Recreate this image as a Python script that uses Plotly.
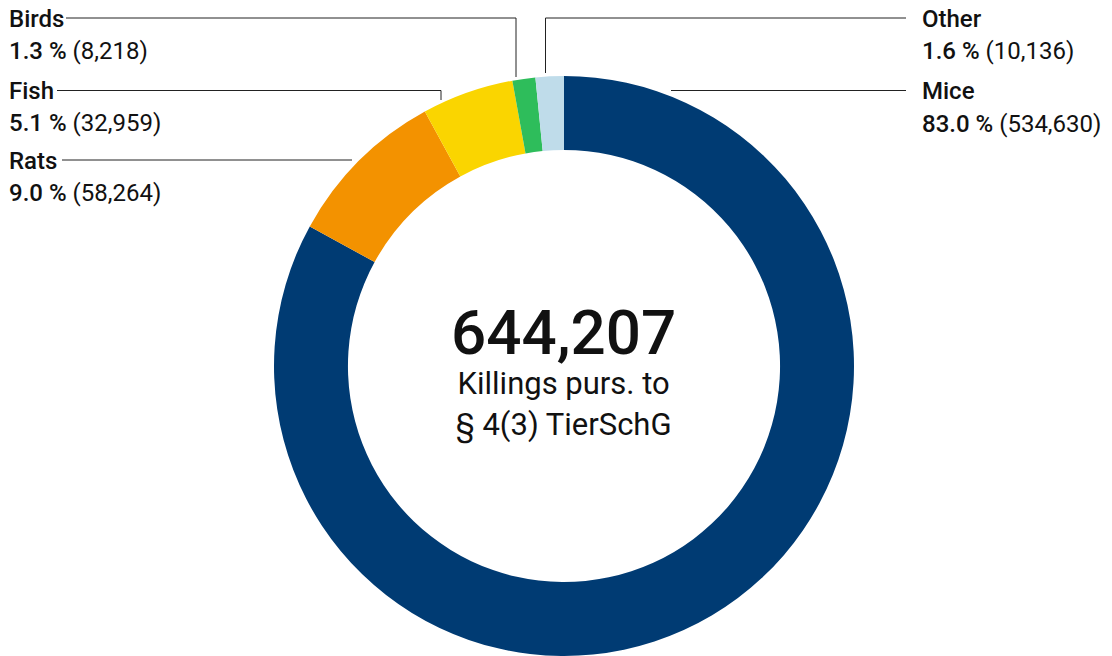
import plotly.graph_objects as go

# ---- data ----
categories = ["Mice", "Rats", "Fish", "Birds", "Other"]
values = [534630, 58264, 32959, 8218, 10136]
colors = ["#003B73", "#F39200", "#FAD500", "#2EBD5B", "#BFDCEA"]
center_number = "644,207"
center_lines = ["Killings purs. to", "§ 4(3) TierSchG"]

W, H = 1112, 656
FONT = "Roboto"

total = sum(values)
pct = {c: 100 * v / total for c, v in zip(categories, values)}
val = dict(zip(categories, values))

fig = go.Figure()
fig.add_trace(go.Pie(
    labels=categories,
    values=values,
    marker=dict(colors=colors, line=dict(width=0)),
    hole=0.745,
    sort=False,
    direction="clockwise",
    rotation=0,
    textinfo="none",
    hoverinfo="label+value+percent",
    domain=dict(x=[274 / W, 854 / W], y=[0, 580 / H]),
    showlegend=False,
))

def px(x):
    return x / W

def py(y):
    return 1 - y / H

LABEL_SIZE = 24

# label layout (pixel positions): name, text x, title y, value y
label_layout = [
    ("Birds", 8, 19, 51),
    ("Fish", 8, 91, 123),
    ("Rats", 8, 161, 193),
    ("Other", 921, 19, 51),
    ("Mice", 921, 91, 124),
]

annotations = []
for name, x, ty, vy in label_layout:
    annotations.append(dict(
        x=px(x), y=py(ty), xref="paper", yref="paper", xanchor="left", yanchor="middle",
        text=f'<span style="font-weight:500">{name}</span>', showarrow=False,
        font=dict(family=FONT, size=LABEL_SIZE, color="#111"), borderpad=0,
    ))
    annotations.append(dict(
        x=px(x), y=py(vy), xref="paper", yref="paper", xanchor="left", yanchor="middle",
        text=f'<span style="font-weight:500">{pct[name]:.1f} %</span> ({val[name]:,})',
        showarrow=False, font=dict(family=FONT, size=LABEL_SIZE, color="#111"), borderpad=0,
    ))

# center text as one block
center_text = (
    f'<span style="font-size:62px;font-weight:500">{center_number}</span><br>'
    + "<br>".join(center_lines)
)
annotations.append(dict(
    x=px(563), y=py(370), xref="paper", yref="paper", xanchor="center", yanchor="middle",
    text=center_text, showarrow=False, align="center", borderpad=0,
    font=dict(family=FONT, size=31, color="#111"),
))

# leader lines (pixel polylines)
leaders = [
    [(66, 18), (516, 18), (516, 77)],      # Birds
    [(906, 18), (545.5, 18), (545.5, 73)], # Other
    [(57, 90.5), (441, 90.5), (441, 100)], # Fish
    [(62, 160), (352, 160)],               # Rats
    [(671, 90.5), (906, 90.5)],            # Mice
]
shapes = []
for pts in leaders:
    for (x0, y0), (x1, y1) in zip(pts[:-1], pts[1:]):
        shapes.append(dict(
            type="line", xref="paper", yref="paper",
            x0=px(x0), y0=py(y0), x1=px(x1), y1=py(y1),
            line=dict(color="#222", width=1),
        ))

fig.update_layout(
    width=W, height=H,
    margin=dict(l=0, r=0, t=0, b=0),
    paper_bgcolor="white", plot_bgcolor="white",
    font=dict(family=FONT, color="#111"),
    annotations=annotations,
    shapes=shapes,
)

fig.write_html(
    "out.html",
    config={"displayModeBar": False},
    post_script="document.body.style.margin='0';document.body.style.overflow='hidden';",
)
